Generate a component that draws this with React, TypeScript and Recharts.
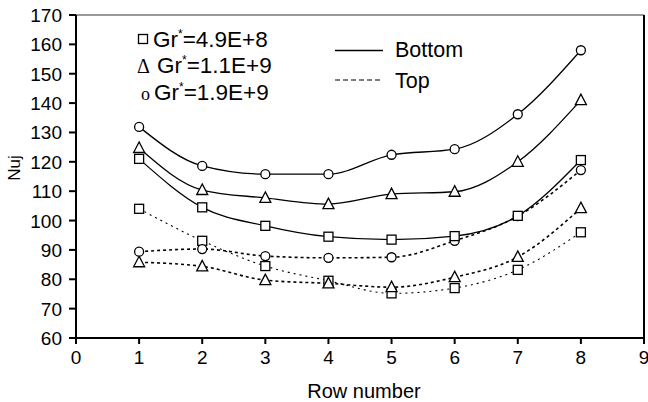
import {
  LineChart,
  Line,
  XAxis,
  YAxis,
  ReferenceLine,
} from 'recharts'

const rows = [1, 2, 3, 4, 5, 6, 7, 8]

// Bottom rows (solid)
const bottomLow = [121, 104.5, 98.2, 94.5, 93.5, 94.7, 101.6, 120.6]
const bottomMid = [124.7, 110.4, 107.7, 105.6, 109, 109.8, 120, 141]
const bottomHigh = [131.9, 118.6, 115.8, 115.8, 122.4, 124.3, 136.2, 158]

// Top rows (dotted)
const topLow = [104, 93.1, 84.5, 79.5, 75.2, 77, 83.2, 96]
const topMid = [85.8, 84.4, 79.7, 78.6, 77.3, 80.7, 87.6, 104.2]
const topHigh = [89.4, 90.3, 87.9, 87.3, 87.5, 93.1, 101.5, 117.2]

const xTicks = [0, 1, 2, 3, 4, 5, 6, 7, 8, 9]
const yTicks = [60, 70, 80, 90, 100, 110, 120, 130, 140, 150, 160, 170]

const data = rows.map((r, i) => ({
  row: r,
  bLow: bottomLow[i],
  bMid: bottomMid[i],
  bHigh: bottomHigh[i],
  tLow: topLow[i],
  tMid: topMid[i],
  tHigh: topHigh[i],
}))

const FONT = '"Liberation Sans", Arial, sans-serif'

const SquareDot = (p: any) => {
  const { cx, cy } = p
  if (cx == null || cy == null) return null
  return <rect x={cx - 4.5} y={cy - 4.5} width={9} height={9} fill="#fff" stroke="#000" strokeWidth={1.3} />
}

const TriangleDot = (p: any) => {
  const { cx, cy } = p
  if (cx == null || cy == null) return null
  return (
    <polygon
      points={`${cx},${cy - 6} ${cx - 5.5},${cy + 4.5} ${cx + 5.5},${cy + 4.5}`}
      fill="#fff"
      stroke="#000"
      strokeWidth={1.3}
    />
  )
}

const CircleDot = (p: any) => {
  const { cx, cy } = p
  if (cx == null || cy == null) return null
  return <circle cx={cx} cy={cy} r={4.5} fill="#fff" stroke="#000" strokeWidth={1.3} />
}

const series = [
  { key: 'tLow', dot: SquareDot, dash: '2 4', width: 1.1 },
  { key: 'tMid', dot: TriangleDot, dash: '3 3', width: 1.6 },
  { key: 'tHigh', dot: CircleDot, dash: '3 3', width: 1.6 },
  { key: 'bLow', dot: SquareDot, dash: undefined, width: 1.3 },
  { key: 'bMid', dot: TriangleDot, dash: undefined, width: 1.3 },
  { key: 'bHigh', dot: CircleDot, dash: undefined, width: 1.3 },
]

const XTick = (p: any) => (
  <text x={p.x} y={p.y + 20} textAnchor="middle" fill="#000" fontSize={19} fontFamily={FONT}>
    {p.payload.value}
  </text>
)

const YTick = (p: any) => (
  <text x={p.x} y={p.y + 7} textAnchor="end" fill="#000" fontSize={19} fontFamily={FONT}>
    {p.payload.value}
  </text>
)

const NujLabel = () => {
  const cy = 168
  return (
    <text
      x={20}
      y={cy}
      transform={`rotate(-90, 20, ${cy})`}
      textAnchor="middle"
      fill="#000"
      fontSize={17}
      fontFamily={FONT}
    >
      Nuj
    </text>
  )
}

const RowLabel = () => (
  <text x={364} y={398} textAnchor="middle" fill="#000" fontSize={20} fontFamily={FONT}>
    Row number
  </text>
)

const GrText = ({ x, y, value }: { x: number; y: number; value: string }) => (
  <text x={x} y={y} fill="#000" fontSize={22.5} fontFamily={FONT}>
    Gr
    <tspan dy={-9} fontSize={12}>*</tspan>
    <tspan dy={9}>{value}</tspan>
  </text>
)

const App = () => {
  return (
    <div style={{ position: 'fixed', left: 0, top: 0, width: 648, height: 402, background: '#fff' }}>
      <LineChart width={648} height={402} data={data} margin={{ top: 15, right: 4, left: 0, bottom: 0 }}>
        <XAxis
          dataKey="row"
          type="number"
          domain={[0, 9]}
          ticks={xTicks}
          interval={0}
          stroke="#000"
          strokeWidth={2}
          tickSize={6}
          tickMargin={0}
          height={64}
          tick={<XTick />}
          label={<RowLabel />}
        />
        <YAxis
          type="number"
          domain={[60, 170]}
          ticks={yTicks}
          interval={0}
          width={76}
          stroke="#000"
          strokeWidth={2}
          tickSize={7}
          tickMargin={7}
          tick={<YTick />}
          label={<NujLabel />}
        />
        <ReferenceLine y={170} stroke="#777" strokeWidth={1.5} />
        <ReferenceLine x={9} stroke="#000" strokeWidth={2} />
        {series.map((s) => (
          <Line
            key={s.key}
            type="monotone"
            dataKey={s.key}
            stroke="#000"
            strokeWidth={s.width}
            strokeDasharray={s.dash}
            dot={s.dot}
            activeDot={false}
            isAnimationActive={false}
          />
        ))}
      </LineChart>

      <svg style={{ position: 'absolute', left: 0, top: 0 }} width={648} height={402} pointerEvents="none">
        <rect x={138.5} y={34.5} width={9} height={9} fill="#fff" stroke="#000" strokeWidth={1.3} />
        <GrText x={153} y={47} value="=4.9E+8" />
        <text x={137} y={73} fill="#000" fontSize={20} fontFamily="'Liberation Serif', serif">Δ</text>
        <GrText x={157} y={73} value="=1.1E+9" />
        <text x={141} y={100} fill="#000" fontSize={18} fontFamily="'Liberation Serif', serif">o</text>
        <GrText x={154} y={100} value="=1.9E+9" />

        <line x1={335} y1={50.5} x2={383} y2={50.5} stroke="#000" strokeWidth={1.3} />
        <text x={395} y={57} fill="#000" fontSize={21.5} fontFamily={FONT}>Bottom</text>
        <line x1={335} y1={80} x2={383} y2={80} stroke="#555" strokeWidth={1.3} strokeDasharray="5 3" />
        <text x={395} y={88} fill="#000" fontSize={21.5} fontFamily={FONT}>Top</text>
      </svg>
    </div>
  )
}

export default App
